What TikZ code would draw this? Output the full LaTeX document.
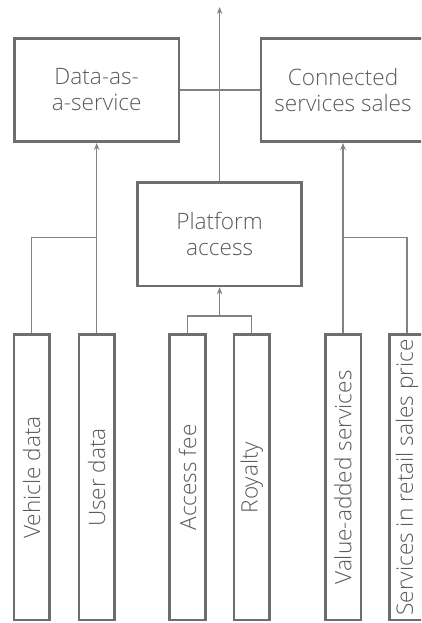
\documentclass[tikz,border=0pt]{standalone}
\usepackage{fontspec}
\setmainfont{Open Sans Light}
\usetikzlibrary{arrows.meta}
\definecolor{boxgray}{HTML}{6D6E71}
\definecolor{linegray}{HTML}{808285}
\definecolor{textgray}{HTML}{58595B}

\begin{document}
\begin{tikzpicture}[x=1pt,y=1pt,>={Stealth[length=7pt,width=5.5pt]},
  font=\fontsize{22.6}{26}\selectfont,
  topbox/.style={draw=boxgray,line width=2.7pt,minimum width=164.3pt,minimum height=103.3pt,
    align=center,text=textgray,inner sep=0pt},
  barbox/.style={draw=boxgray,line width=2.7pt,minimum width=35.7pt,minimum height=285.3pt,
    text=textgray,inner sep=0pt},
  link/.style={draw=linegray,line width=1.4pt}]
\useasboundingbox (0,0) rectangle (421,623);
\begin{scope}
\clip (0,0) rectangle (421,623);
% revenue streams
\node[topbox] (daas) at (96.7,533) {Data-as-\\a-service};
\node[topbox] (css) at (343,533) {Connected\\services sales};
\node[topbox] (platform) at (219.6,388.7) {Platform\\access};
% sources
\node[barbox] (vehicle) at (31.7,145.5) {\rotatebox{90}{Vehicle data}};
\node[barbox] (user) at (96.7,145.5) {\rotatebox{90}{User data}};
\node[barbox] (fee) at (187.5,145.5) {\rotatebox{90}{Access fee}};
\node[barbox] (royalty) at (251.7,145.5) {\rotatebox{90}{Royalty}};
\node[barbox] (vas) at (343,145.5) {\rotatebox{90}{Value-added services}};
\node[barbox] (retail) at (407,145.5) {\rotatebox{90}{Services in retail sales price}};
% joins
\coordinate (lj) at (96.7,385.3);
\coordinate (rj) at (343,385.3);
\coordinate (pj) at (219.6,307);
\coordinate (out) at (219.6,616);
\draw[link] (vehicle.north) |- (lj);
\draw[link,->] (user.north) -- (daas.south);
\draw[link] (fee.north) |- (pj) -| (royalty.north);
\draw[link,->] (pj) -- (platform.south);
\draw[link] (retail.north) |- (rj);
\draw[link,->] (vas.north) -- (css.south);
\draw[link] (daas.east) -- (css.west);
\draw[link,->] (platform.north) -- (out);
\end{scope}
\end{tikzpicture}
\end{document}
